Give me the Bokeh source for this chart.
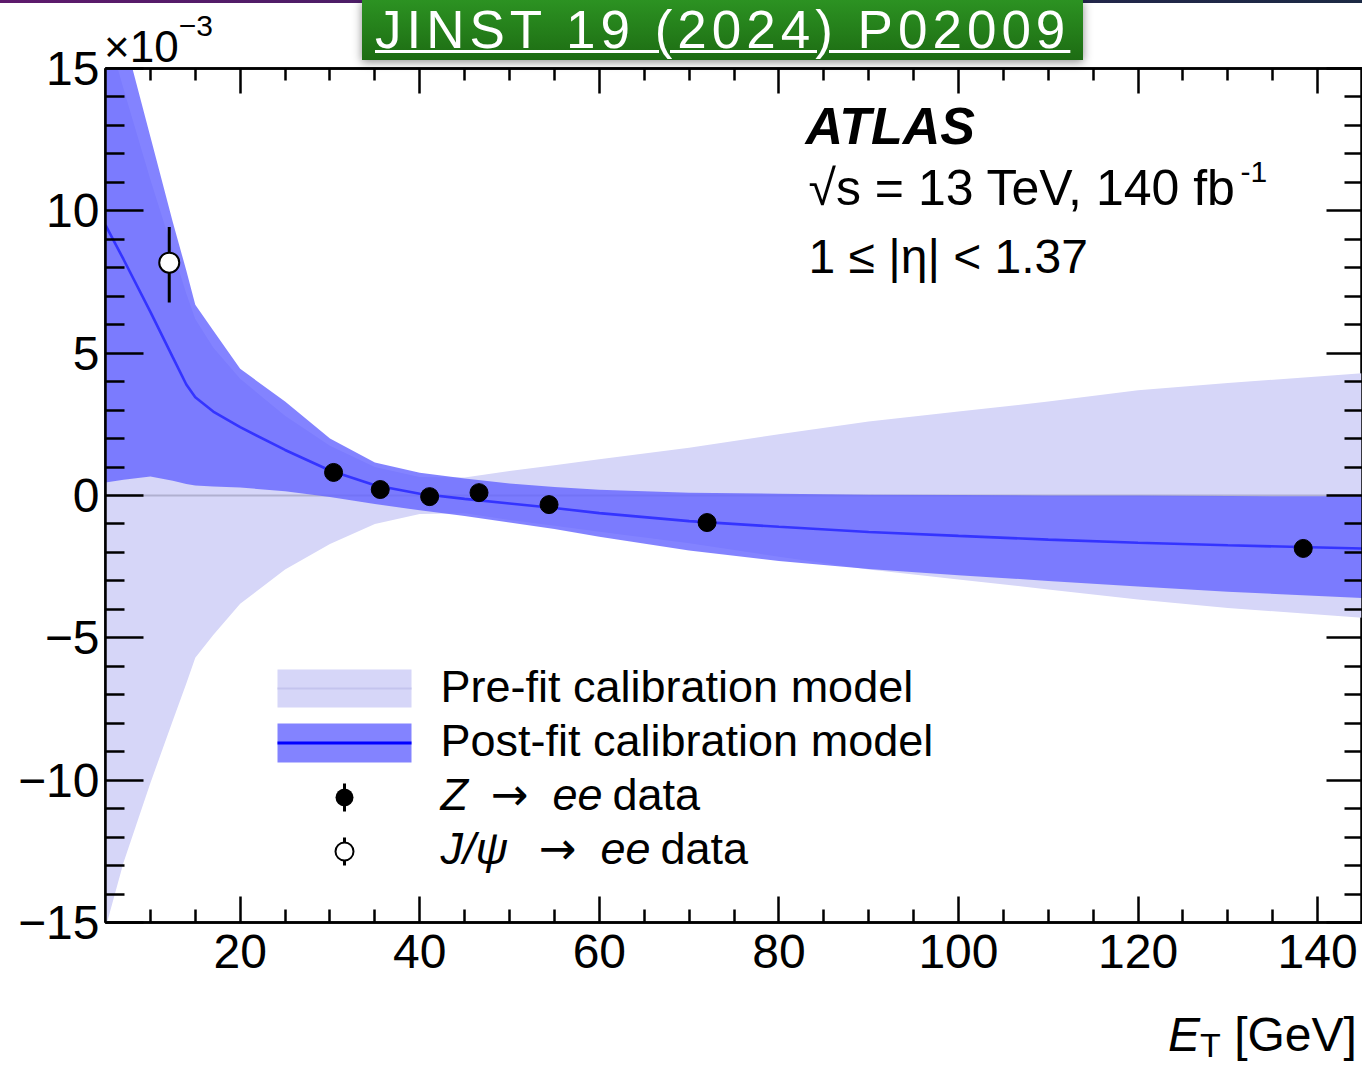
from bokeh.plotting import figure
from bokeh.layouts import column
from bokeh.models import (ColumnDataSource, Range1d, LinearAxis, FixedTicker, Label,
                          BoxAnnotation, Div, CustomLabelingPolicy)
from bokeh.embed import file_html
from bokeh.resources import INLINE

# ---------------- data (values in units of 1e-3) ----------------
model_et = [5, 7, 10, 12.5, 14, 15, 17, 20, 25, 30, 35, 40, 45, 50, 55, 60,
            70, 80, 90, 100, 110, 120, 130, 145]
prefit_center = [0.0, 0.0, 0.0, 0.0, 0.0, 0.0, 0.0, 0.0, 0.0, 0.0, 0.0, 0.0,
                 0.0, 0.0, 0.0, 0.0, 0.0, 0.0, 0.0, 0.0, 0.0, 0.0, 0.0, 0.0]
prefit_hi = [16.5, 14.3, 11.1, 8.6, 7.1, 6.2, 5.2, 4.1, 2.8, 1.75, 1.0, 0.65,
             0.63, 0.86, 1.06, 1.27, 1.68, 2.15, 2.6, 2.95, 3.3, 3.7, 3.95, 4.3]
prefit_lo = [-15.2, -12.9, -10.1, -7.9, -6.6, -5.7, -4.9, -3.8, -2.6, -1.7, -1.0, -0.65,
             -0.62, -0.86, -1.06, -1.27, -1.68, -2.15, -2.6, -2.95, -3.3, -3.65, -3.95, -4.3]
postfit_mid = [9.5, 8.3, 6.45, 4.85, 3.9, 3.45, 2.95, 2.4, 1.6, 0.88, 0.36, 0.06,
               -0.12, -0.28, -0.44, -0.62, -0.9, -1.1, -1.28, -1.42, -1.55, -1.66, -1.75, -1.86]
postfit_hi = [18.6, 16.2, 12.6, 9.6, 7.9, 6.7, 5.8, 4.45, 3.3, 2.0, 1.16, 0.8,
              0.6, 0.42, 0.3, 0.2, 0.1, 0.06, 0.03, 0.02, 0.0, 0.0, -0.02, -0.03]
postfit_lo = [0.46, 0.55, 0.67, 0.52, 0.4, 0.35, 0.32, 0.28, 0.15, -0.05, -0.3, -0.52,
              -0.72, -0.95, -1.18, -1.45, -1.93, -2.3, -2.58, -2.8, -3.0, -3.2, -3.38, -3.6]

z_et = [30.4, 35.6, 41.1, 46.6, 54.4, 72.0, 138.4]
z_val = [0.81, 0.21, -0.04, 0.10, -0.32, -0.95, -1.86]

jpsi_et = [12.1]
jpsi_val = [8.18]
jpsi_err_up = [1.25]
jpsi_err_down = [1.40]

x_major_ticks = [20, 40, 60, 80, 100, 120, 140]
x_minor_ticks = [10, 15, 25, 30, 35, 45, 50, 55, 65, 70, 75, 85, 90, 95, 105, 110, 115,
                 125, 130, 135]
x_tick_labels = ["20", "40", "60", "80", "100", "120", "140"]
y_major_ticks = [-15, -10, -5, 0, 5, 10, 15]
y_minor_ticks = [-14, -13, -12, -11, -9, -8, -7, -6, -4, -3, -2, -1,
                 1, 2, 3, 4, 6, 7, 8, 9, 11, 12, 13, 14]
y_tick_labels = ["\u221215", "\u221210", "\u22125", "0", "5", "10", "15"]

FONT = "Liberation Sans"
PREFIT_COLOR = "#d6d6f8"
POSTFIT_COLOR = "#6464ff"

# ---------------- figure ----------------
p = figure(width=1362, height=1066, output_backend="svg", toolbar_location=None,
           x_range=Range1d(5, 145), y_range=Range1d(-15, 15),
           min_border_left=105, min_border_top=68, min_border_right=0, min_border_bottom=144)
p.title.visible = False
p.grid.visible = False
p.background_fill_color = "white"
p.border_fill_color = "white"
p.outline_line_color = "black"
p.outline_line_width = 2.5

xticker = FixedTicker(ticks=x_major_ticks, minor_ticks=x_minor_ticks)
yticker = FixedTicker(ticks=y_major_ticks, minor_ticks=y_minor_ticks)


def style_axis(ax, tin, tmin, font_size):
    ax.axis_line_color = "black"
    ax.axis_line_width = 2.5
    ax.major_tick_line_color = "black"
    ax.minor_tick_line_color = "black"
    ax.major_tick_line_width = 2.5
    ax.minor_tick_line_width = 2.5
    ax.major_tick_in = tin
    ax.major_tick_out = 0
    ax.minor_tick_in = tmin
    ax.minor_tick_out = 0
    ax.major_label_text_font = FONT
    ax.major_label_text_font_size = font_size
    ax.major_label_text_color = "black"


xax = p.xaxis[0]
xax.ticker = xticker
xax.major_label_overrides = dict(zip(x_major_ticks, x_tick_labels))
style_axis(xax, 26, 13, "48px")
xax.major_label_standoff = 12

yax = p.yaxis[0]
yax.ticker = yticker
yax.major_label_overrides = dict(zip(y_major_ticks, y_tick_labels))
style_axis(yax, 38, 19, "48px")
yax.major_label_standoff = 6

no_labels = CustomLabelingPolicy(code="return []")

rax = LinearAxis(ticker=yticker, major_label_policy=no_labels)
style_axis(rax, 36, 18, "0px")
rax.major_label_standoff = 0
p.add_layout(rax, "right")

tax = LinearAxis(ticker=xticker, major_label_policy=no_labels)
style_axis(tax, 25, 12, "0px")
tax.major_label_standoff = 0
p.add_layout(tax, "above")

# ---------------- glyphs ----------------
src_model = ColumnDataSource(dict(et=model_et, pre_lo=prefit_lo, pre_hi=prefit_hi,
                                  pre_c=prefit_center, post_lo=postfit_lo,
                                  post_hi=postfit_hi, post_c=postfit_mid))
p.varea(x="et", y1="pre_lo", y2="pre_hi", source=src_model,
        fill_color=PREFIT_COLOR, fill_alpha=1.0)
p.line("et", "pre_c", source=src_model, line_color="#b0b0d0", line_width=2)
p.varea(x="et", y1="post_lo", y2="post_hi", source=src_model,
        fill_color=POSTFIT_COLOR, fill_alpha=0.8)
p.line("et", "post_c", source=src_model, line_color="#3434ff", line_width=2.6)

src_z = ColumnDataSource(dict(et=z_et, val=z_val))
p.scatter("et", "val", source=src_z, size=18, marker="circle",
          fill_color="black", line_color="black")

src_j = ColumnDataSource(dict(et=jpsi_et, val=jpsi_val,
                              lo=[v - e for v, e in zip(jpsi_val, jpsi_err_down)],
                              hi=[v + e for v, e in zip(jpsi_val, jpsi_err_up)]))
p.segment(x0="et", y0="lo", x1="et", y1="hi", source=src_j, line_color="black", line_width=3)
p.scatter("et", "val", source=src_j, size=20, marker="circle",
          fill_color="white", line_color="black", line_width=2)


# ---------------- legend (drawn as annotations, frame-relative pixels) ----------------
def box(left, right, bottom, top, color, alpha=1.0, radius=0, line_color=None, line_width=1):
    p.add_layout(BoxAnnotation(left=left, right=right, bottom=bottom, top=top,
                               left_units="screen", right_units="screen",
                               bottom_units="screen", top_units="screen",
                               fill_color=color, fill_alpha=alpha, border_radius=radius,
                               line_color=line_color, line_alpha=1.0, line_width=line_width))


def txt(x, y, s, size, style="normal", align="left", font=FONT):
    # y is the wanted baseline; correct for the renderer's baseline placement
    px = int(size.replace("px", ""))
    p.add_layout(Label(x=x, y=y + round(0.39 * px), x_units="screen", y_units="screen",
                       text=s, text_font=font, text_font_size=size, text_font_style=style,
                       text_color="black", text_align=align, text_baseline="alphabetic"))


box(172, 306, 215, 253, PREFIT_COLOR)
box(172, 306, 233, 235, "#c4c4ee")
box(172, 306, 160, 199, POSTFIT_COLOR, 0.8)
box(172, 306, 178, 181, "#0000ff")
box(237.5, 240.5, 111, 139, "black")
box(230, 248, 116, 134, "black", radius=9)
box(237.5, 240.5, 57, 85, "black")
box(230, 248, 62, 80, "white", radius=9, line_color="black", line_width=2)

txt(335, 218, "Pre-fit calibration model", "45px")
txt(335, 164, "Post-fit calibration model", "45px")
txt(335, 110, "Z", "45px", "italic")
txt(385, 110, "\u2192", "45px", font="DejaVu Sans")
txt(447, 110, "ee", "45px", "italic")
txt(507, 110, "data", "45px")
txt(335, 56, "J/\u03c8", "45px", "italic")
txt(433, 56, "\u2192", "45px", font="DejaVu Sans")
txt(495, 56, "ee", "45px", "italic")
txt(555, 56, "data", "45px")

# ATLAS block
txt(700, 777, "ATLAS", "52px", "bold italic")
txt(703, 715, "\u221as = 13 TeV, 140 fb", "50px")
txt(1135, 739, "-1", "30px")
txt(703, 647, "1 \u2264 |\u03b7| < 1.37", "48px")

# ---------------- texts outside the frame (HTML overlays) ----------------
strip = Div(text="", width=1362, height=3, margin=0,
            styles={"position": "absolute", "left": "0px", "top": "0px",
                    "background": "linear-gradient(90deg, #5e1a6c 0%, #4a1d66 30%, #22264a 80%, #1c2a44 100%)",
                    "z-index": "9"})

banner_html = ('<div style="position:relative;width:721px;height:60px;'
               'background:linear-gradient(#2c9222,#1d6c13);'
               'box-shadow:0 2px 9px rgba(0,0,0,0.45);">'
               '<span style="position:absolute;left:13px;top:0px;color:white;'
               "font-family:'Liberation Sans';font-size:53px;line-height:59px;"
               'letter-spacing:5px;'
               'text-decoration:underline;text-decoration-thickness:3px;'
               'text-underline-offset:2px;white-space:nowrap;">'
               'JINST 19 (2024) P02009</span></div>')
banner = Div(text=banner_html, width=721, height=60, margin=0,
             styles={"position": "absolute", "left": "362px", "top": "0px", "z-index": "10"})

mult_html = ("<div style=\"font-family:'Liberation Sans';font-size:44px;line-height:50px;"
             'color:black;white-space:nowrap;">\u00d710<span style="font-size:30px;'
             'position:relative;top:-26px;">\u22123</span></div>')
mult = Div(text=mult_html, width=140, height=50, margin=0,
           styles={"position": "absolute", "left": "104px", "top": "22px", "z-index": "10"})

xlab_html = ("<div style=\"font-family:'Liberation Sans';font-size:48px;line-height:54px;"
             'color:black;white-space:nowrap;"><i>E</i>'
             '<span style="font-size:34px;position:relative;top:6px;">T</span> [GeV]</div>')
xlab = Div(text=xlab_html, width=194, height=56, margin=0,
           styles={"position": "absolute", "left": "1168px", "top": "1008px", "z-index": "10"})

layout = column(p, strip, banner, mult, xlab, styles={"position": "relative"})

open("out.html", "w").write(file_html(layout, INLINE))
